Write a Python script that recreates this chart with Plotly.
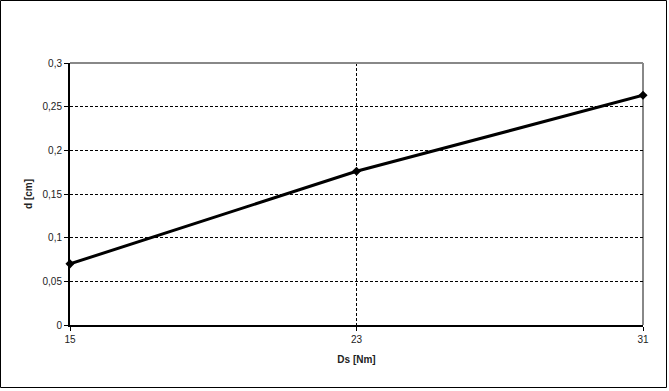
import plotly.graph_objects as go

x_vals = ["15", "23", "31"]
d_vals = [0.07, 0.176, 0.263]
y_ticks = [0, 0.05, 0.1, 0.15, 0.2, 0.25, 0.3]
y_labels = ["0", "0,05", "0,1", "0,15", "0,2", "0,25", "0,3"]

L, R, T, B = 70, 26, 63, 66
W, H = 669, 391
pw, ph = W - L - R, H - T - B

fig = go.Figure()
fig.add_trace(go.Scatter(
    x=[0, 1, 2], y=d_vals, mode="lines+markers",
    line=dict(color="black", width=3),
    marker=dict(symbol="diamond", size=7, color="black"),
    showlegend=False, cliponaxis=False,
))

font = dict(family="Liberation Sans, Arial, sans-serif", size=10, color="#222")

fig.update_layout(
    width=W, height=H,
    margin=dict(l=L, r=R, t=T, b=B),
    paper_bgcolor="white", plot_bgcolor="white",
    font=font,
    xaxis=dict(
        range=[0, 2], tickmode="array", tickvals=[0, 1, 2], ticktext=x_vals,
        showgrid=True, gridcolor="black", griddash="3px,2px", gridwidth=1,
        showline=True, linecolor="black", linewidth=2,
        ticks="outside", ticklen=4, tickcolor="black", tickwidth=1,
        zeroline=False,
        title=dict(text="<b>Ds [Nm]</b>", standoff=12, font=font),
        tickfont=font,
    ),
    yaxis=dict(
        range=[0, 0.3], tickmode="array", tickvals=y_ticks, ticktext=y_labels,
        showgrid=True, gridcolor="black", griddash="3px,2px", gridwidth=1,
        showline=True, linecolor="black", linewidth=2,
        ticks="outside", ticklen=4, tickcolor="black", tickwidth=1,
        zeroline=False,
        title=dict(text="<b>d [cm]</b>", standoff=8, font=font),
        tickfont=font,
    ),
    shapes=[
        dict(type="line", xref="paper", yref="paper", x0=0, x1=1, y0=1, y1=1,
             line=dict(color="#888", width=2), layer="above"),
        dict(type="line", xref="paper", yref="paper", x0=1, x1=1, y0=0, y1=1,
             line=dict(color="#888", width=2), layer="below"),
        dict(type="rect", xref="paper", yref="paper",
             x0=(0.5 - L) / pw, x1=(666.5 - L) / pw,
             y0=(H - B - 387.5) / ph, y1=(H - B - 0.5) / ph,
             line=dict(color="black", width=1), layer="below"),
    ],
)

fig.write_html("out.html")
